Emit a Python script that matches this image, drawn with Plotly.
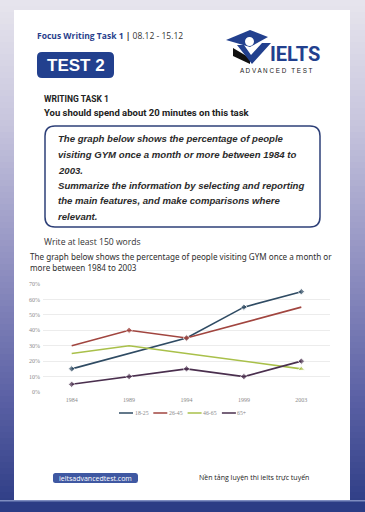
import plotly.graph_objects as go

# ---------------- data ----------------
years = ["1984", "1989", "1994", "1999", "2003"]
age_18_25 = [15, 25, 35, 55, 65]
age_26_45 = [30, 40, 35, 45, 55]
age_46_65 = [25, 30, 25, 20, 15]
age_65_plus = [5, 10, 15, 10, 20]
series_names = ["18-25", "26-45", "46-65", "65+"]
y_tick_values = [0, 10, 20, 30, 40, 50, 60, 70]
y_tick_labels = ["0%", "10%", "20%", "30%", "40%", "50%", "60%", "70%"]

# ---------------- styling ----------------
series_values = [age_18_25, age_26_45, age_46_65, age_65_plus]
series_colors = ["#2f4b63", "#a1453f", "#a9c04a", "#4a2f4e"]
series_symbols = ["diamond", "diamond", "triangle-up", "diamond"]
series_marker_sizes = [[5, 0, 5, 5, 5], [0, 5, 5, 0, 0], [0, 0, 0, 0, 6], [5, 5, 5, 5, 5]]

W, H = 365, 512
L, R, T, B = 43, 330, 284, 392


def px(x):
    return (x - L) / (R - L)


def py(y):
    return (B - y) / (B - T)


def rrect_path(x0, y0, x1, y1, r):
    pts = [
        ("M", [(x0 + r, y0)]),
        ("L", [(x1 - r, y0)]),
        ("Q", [(x1, y0), (x1, y0 + r)]),
        ("L", [(x1, y1 - r)]),
        ("Q", [(x1, y1), (x1 - r, y1)]),
        ("L", [(x0 + r, y1)]),
        ("Q", [(x0, y1), (x0, y1 - r)]),
        ("L", [(x0, y0 + r)]),
        ("Q", [(x0, y0), (x0 + r, y0)]),
    ]
    s = ""
    for cmd, ps in pts:
        s += cmd + " " + " ".join(f"{px(a):.5f},{py(b):.5f}" for a, b in ps) + " "
    return s + "Z"


def poly_path(points):
    s = "M " + " L ".join(f"{px(a):.5f},{py(b):.5f}" for a, b in points)
    return s + " Z"


def lerp_color(stops, y):
    for (ya, ca), (yb, cb) in zip(stops, stops[1:]):
        if ya <= y <= yb:
            t = (y - ya) / (yb - ya)
            c = [round(ca[i] + (cb[i] - ca[i]) * t) for i in range(3)]
            return f"rgb({c[0]},{c[1]},{c[2]})"
    c = stops[-1][1]
    return f"rgb({c[0]},{c[1]},{c[2]})"


shapes = []
# frame gradient background
stops = [(0, (231, 229, 237)), (120, (200, 198, 222)), (260, (146, 146, 194)),
         (400, (90, 96, 164)), (512, (44, 60, 132))]
step = 6
for y in range(0, 504, step):
    shapes.append(dict(type="rect", xref="paper", yref="paper", x0=px(0), x1=px(W),
                       y0=py(y + step + 0.5), y1=py(y), fillcolor=lerp_color(stops, y + step / 2),
                       line=dict(width=0), layer="below"))
# bottom band
shapes.append(dict(type="rect", xref="paper", yref="paper", x0=px(0), x1=px(W),
                   y0=py(H), y1=py(500), fillcolor="#2b3c85", line=dict(width=0), layer="below"))
shapes.append(dict(type="rect", xref="paper", yref="paper", x0=px(0), x1=px(W),
                   y0=py(501.5), y1=py(500), fillcolor="#7d8cc0", line=dict(width=0), layer="below"))
# white page
shapes.append(dict(type="rect", xref="paper", yref="paper", x0=px(14), x1=px(350),
                   y0=py(500), y1=py(10), fillcolor="#ffffff", line=dict(width=0), layer="below"))
# TEST 2 badge
shapes.append(dict(type="path", xref="paper", yref="paper", path=rrect_path(37, 52, 114, 78, 5),
                   fillcolor="#22408e", line=dict(width=0), layer="below"))
# logo: mortarboard, head, V, book
shapes.append(dict(type="path", xref="paper", yref="paper",
                   path=poly_path([(226, 40), (250, 30), (268, 37), (250, 47)]),
                   fillcolor="#22408e", line=dict(width=0), layer="below"))
shapes.append(dict(type="path", xref="paper", yref="paper",
                   path=poly_path([(233, 48), (250, 58), (250, 64), (233, 56)]),
                   fillcolor="#111111", line=dict(width=0), layer="below"))
shapes.append(dict(type="path", xref="paper", yref="paper",
                   path=poly_path([(237, 45), (244, 45), (251, 55), (262, 43), (271, 43), (252, 64)]),
                   fillcolor="#22408e", line=dict(width=0), layer="below"))
shapes.append(dict(type="circle", xref="paper", yref="paper", x0=px(245), x1=px(254),
                   y0=py(46), y1=py(37), fillcolor="#ffffff", line=dict(width=0), layer="below"))
# task box
shapes.append(dict(type="path", xref="paper", yref="paper", path=rrect_path(45, 126, 320, 227, 10),
                   fillcolor="rgba(0,0,0,0)", line=dict(color="#2e4078", width=1.5), layer="below"))
# footer pill
shapes.append(dict(type="path", xref="paper", yref="paper", path=rrect_path(53, 473, 138, 483, 2.5),
                   fillcolor="#3f58a2", line=dict(width=0), layer="below"))

# manual legend swatches
legend_x0 = 119
legend_step = 34.3
legend_y = 413
for i, (name, color) in enumerate(zip(series_names, series_colors)):
    xs = legend_x0 + i * legend_step
    shapes.append(dict(type="line", xref="paper", yref="paper", x0=px(xs), x1=px(xs + 14),
                       y0=py(legend_y), y1=py(legend_y), line=dict(color=color, width=1.5)))

annotations = []


def text(x, y, s, size, color, family, xanchor="left"):
    annotations.append(dict(x=px(x), y=py(y), xref="paper", yref="paper", text=s, showarrow=False,
                            xanchor=xanchor, yanchor="middle", align="left", borderpad=0,
                            font=dict(size=size, color=color, family=family)))


SANS = "Open Sans, Noto Sans, sans-serif"
NARROW = "Liberation Sans Narrow, Roboto, sans-serif"
ARIAL = "Liberation Sans, Arial, sans-serif"
SERIF = "Liberation Serif, DejaVu Serif, serif"

text(36, 35, "<b>Focus Writing Task 1</b><span style='color:#333'> <b>|</b> 08.12 - 15.12</span>", 8.5,
     "#2a3f8c", SANS)
text(75.5, 65, "<b>TEST 2</b>", 17, "#ffffff", ARIAL, "center")
text(269, 53.5, "<b>IELTS</b>", 20, "#22408e", NARROW)
text(276, 70, "A D V A N C E D   T E S T", 6.3, "#222222", ARIAL, "center")
text(43, 99, "<b>WRITING TASK 1</b>", 8.5, "#222222", NARROW)
text(43, 113, "<b>You should spend about 20 minutes on this task</b>", 9.5, "#222222", NARROW)

box_lines = [
    "The graph below shows the percentage of people",
    "visiting GYM once a month or more between 1984 to",
    "2003.",
    "Summarize the information by selecting and reporting",
    "the main features, and make comparisons where",
    "relevant.",
]
box_y = [138, 154, 170, 185, 200, 216]
for s, y in zip(box_lines, box_y):
    text(57, y, f"<b><i>{s}</i></b>", 9.6, "#2b2b2b", ARIAL)

text(43, 242, "Write at least 150 words", 8.6, "#333333", SANS)
text(29, 256, "The graph below shows the percentage of people visiting GYM once a month or", 8.1,
     "#2e2e2e", "Noto Sans, sans-serif")
text(29, 267, "more between 1984 to 2003", 8.1, "#2e2e2e", "Noto Sans, sans-serif")

for i, name in enumerate(series_names):
    xs = legend_x0 + i * legend_step
    text(xs + 14.5, legend_y, name, 5.8, "#8a8a8a", SERIF)

text(95.5, 478, "ieltsadvancedtest.com", 7, "#ffffff", SANS, "center")
text(253.5, 477.5, "Nền tảng luyện thi ielts trực tuyến", 7, "#222222", SANS, "center")

fig = go.Figure()
for name, vals, color, sym, sizes in zip(series_names, series_values, series_colors,
                                         series_symbols, series_marker_sizes):
    fig.add_trace(go.Scatter(x=years, y=vals, name=name, mode="lines+markers",
                             line=dict(color=color, width=1.6),
                             marker=dict(symbol=sym, size=sizes, color=color)))

fig.update_layout(
    width=W, height=H, autosize=False,
    margin=dict(l=L, r=W - R, t=T, b=H - B, pad=0),
    paper_bgcolor="#e7e5ed", plot_bgcolor="rgba(0,0,0,0)",
    showlegend=False, hovermode=False,
    shapes=shapes, annotations=annotations,
    xaxis=dict(type="category", range=[-0.5, 4.5], showgrid=False, showline=False, zeroline=False,
               ticks="", tickfont=dict(size=6, color="#8a8a8a", family=SERIF), ticklabelstandoff=3,
               fixedrange=True),
    yaxis=dict(range=[0, 70], tickvals=y_tick_values, ticktext=y_tick_labels, showgrid=True,
               gridcolor="#ececec", gridwidth=1, zeroline=False, showline=False, ticks="",
               tickfont=dict(size=6, color="#8a8a8a", family=SERIF), ticklabelstandoff=2,
               fixedrange=True),
)

fig.write_html("out.html", config={"displayModeBar": False},
               post_script="document.body.style.margin='0';document.body.style.overflow='hidden';")
